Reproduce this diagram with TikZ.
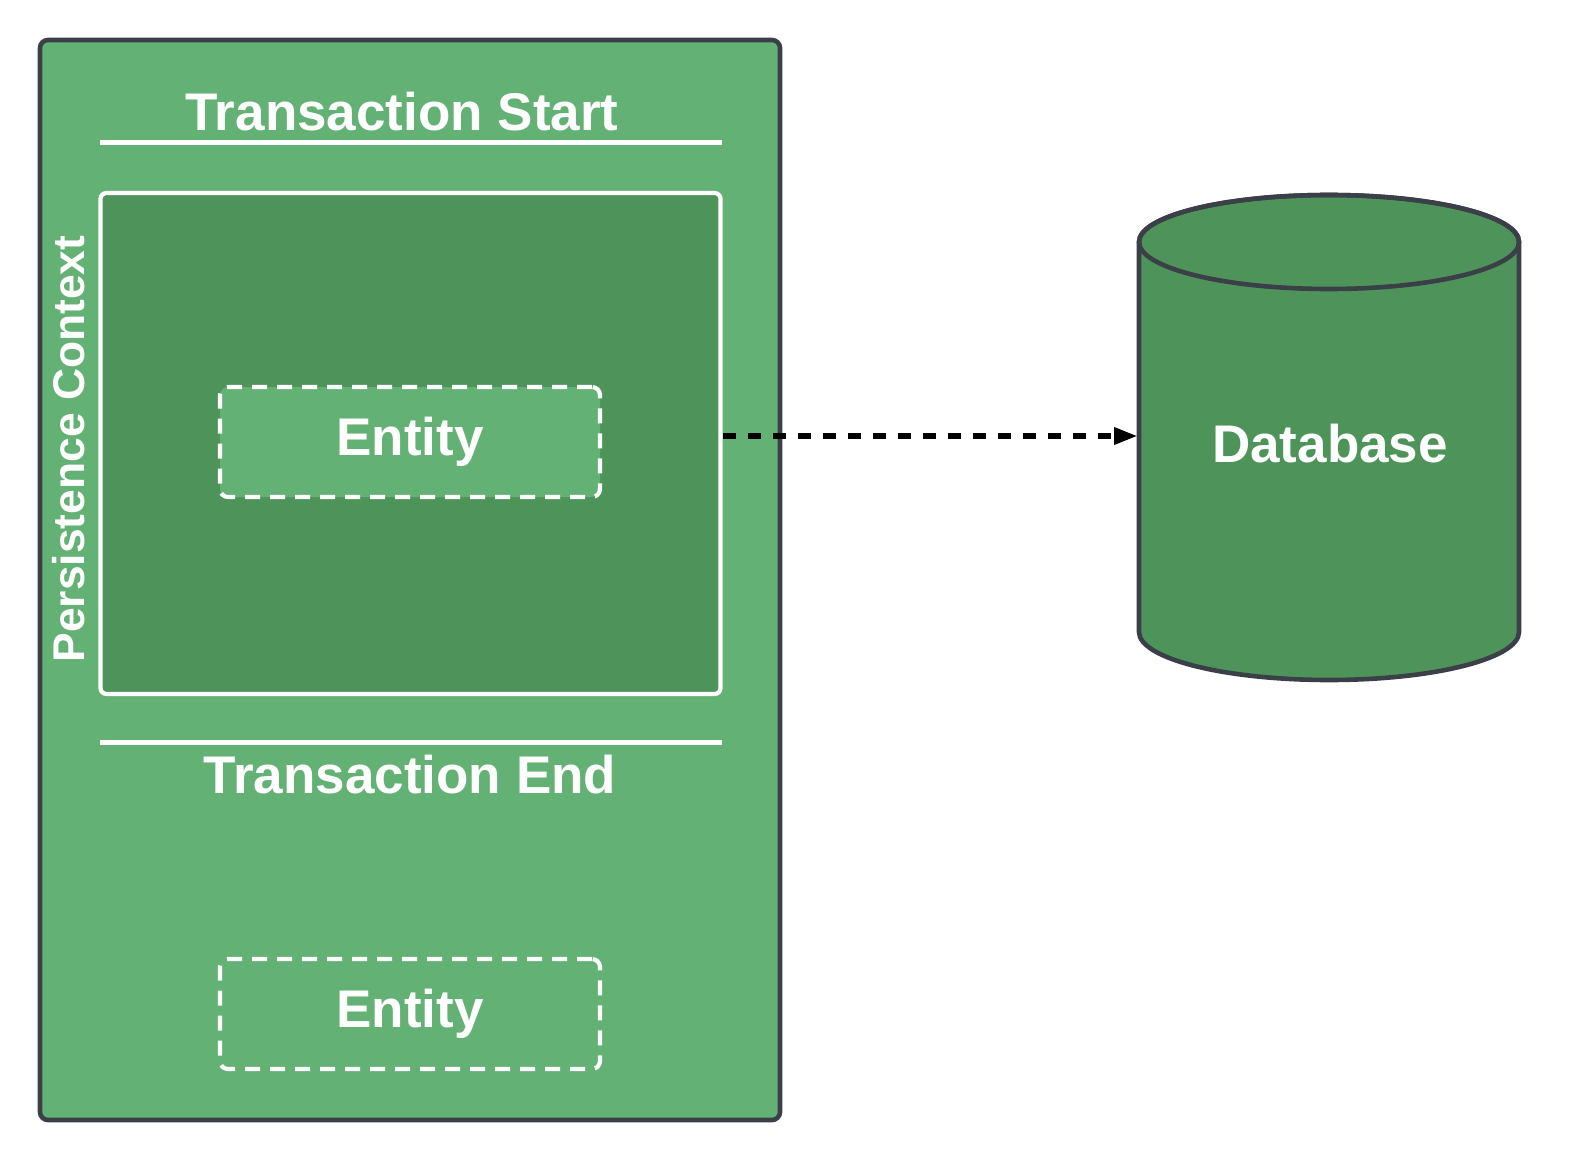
\documentclass[tikz,border=0pt]{standalone}
\usepackage{fontspec}
\setmainfont{Liberation Sans}
\usetikzlibrary{arrows.meta,positioning}

\definecolor{lightgreen}{RGB}{100,177,117}
\definecolor{darkgreen}{RGB}{78,148,90}
\definecolor{edgegray}{RGB}{58,63,72}

\tikzset{
    title/.style={text=white, font=\bfseries\fontsize{26.5}{30}\selectfont, anchor=base},
    entity/.style={draw=white, line width=2.1pt, dash pattern=on 7.5pt off 5pt,
        fill=lightgreen, rounded corners=4pt, minimum width=190pt, minimum height=55pt,
        text=white, font=\bfseries\fontsize{26.5}{30}\selectfont},
    rule/.style={draw=white, line width=2.2pt},
}

\begin{document}
\begin{tikzpicture}[x=0.5pt,y=-0.5pt]
    \useasboundingbox (0,0) rectangle (1593,1160);

    % outer frame
    \draw[edgegray, line width=2.3pt, fill=lightgreen, rounded corners=4pt] (40,40) rectangle (780,1120);

    % transaction start and end
    \node[title] (start) at (402,131) {Transaction Start};
    \draw[rule] (100,142.5) -- (722,142.5);
    \draw[rule] (100,742.5) -- (722,742.5);
    \node[title] (end) at (410,793) {Transaction End};

    % persistence context box
    \node[draw=white, line width=2.1pt, fill=darkgreen, rounded corners=3pt,
          minimum width=310pt, minimum height=250.5pt] (pc) at (410.5,443.5) {};
    \node[text=white, font=\bfseries\fontsize{22.2}{26}\selectfont, rotate=90, anchor=base]
          (pclabel) at (84,449) {Persistence Context};

    % entities
    \node[entity] (e1) at (410,442) {Entity};
    \node[entity] (e2) at (410,1014) {Entity};

    % database cylinder
    \draw[edgegray, line width=2.3pt, fill=darkgreen]
        (1139,242) -- (1139,632) arc[start angle=180, end angle=0, x radius=190, y radius=48]
        -- (1519,242) arc[start angle=0, end angle=-180, x radius=190, y radius=47] -- cycle;
    \draw[edgegray, line width=2.3pt] (1329,242) ellipse [x radius=190, y radius=47];
    \node[title] (db) at (1330,462) {Database};
    \coordinate (dbin) at (1138,436);

    % flush to database
    \draw[black, line width=3pt, dash pattern=on 6.5pt off 6pt, -{Triangle[length=12pt, width=8pt]}]
        (pc.east |- dbin) -- (dbin);
\end{tikzpicture}
\end{document}
